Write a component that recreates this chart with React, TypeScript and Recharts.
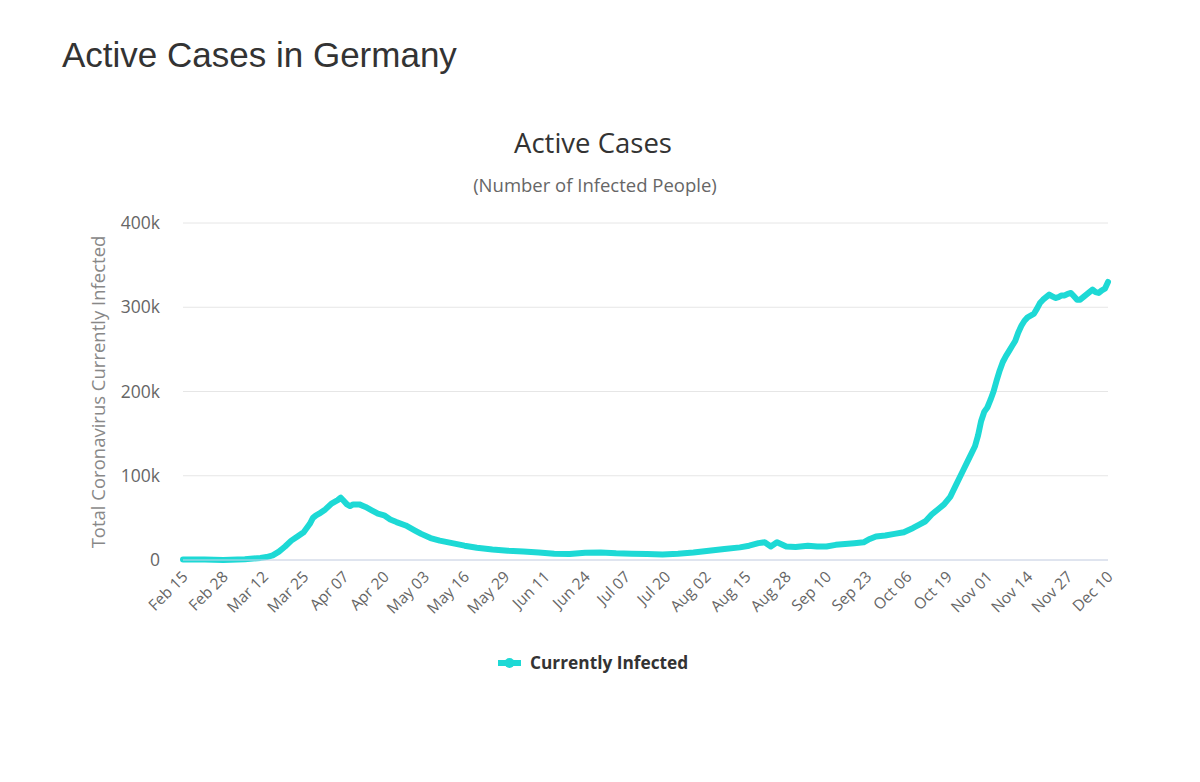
import { LineChart, Line, XAxis, YAxis, CartesianGrid } from 'recharts'

// day offsets from Feb 15 and active cases (thousands)
const dayIdx = [
  0, 7, 13, 20, 25, 27, 29, 31, 33, 35, 37, 39, 41, 42, 43, 44, 46, 48, 50, 51,
  52, 53, 54, 55, 57, 59, 61, 63, 65, 67, 69, 72, 75, 77, 80, 83, 87, 91, 95, 100,
  105, 110, 115, 120, 125, 130, 135, 140, 145, 150, 155, 160, 165, 170, 175, 180, 183, 186, 188, 190,
  192, 195, 198, 202, 205, 208, 211, 214, 217, 220, 222, 224, 227, 230, 233, 236, 238, 240, 242, 244,
  246, 248, 250, 252, 254, 256, 257, 258, 259, 260, 261, 262, 263, 264, 265, 266, 267, 268, 269, 270,
  271, 272, 273, 274, 275, 276, 277, 278, 279, 280, 281, 282, 283, 284, 285, 286, 287, 288, 289, 290,
  291, 292, 293, 294, 295, 296, 297, 298, 299,
]
const activeK = [
  0.5, 0.5, 0.1, 0.8, 2.5, 3.5, 5.5, 10, 16, 23, 28, 33, 43, 50, 53, 55, 60, 67, 71, 74,
  70, 66, 64, 66, 66, 63, 59, 55, 53, 48, 45, 41, 35, 31, 26, 23, 20, 17, 14.5, 12.5,
  11, 10, 9, 7.5, 7, 8.5, 9, 8, 7.5, 7, 6.5, 7.5, 9, 11, 13, 15, 17, 20, 21, 16,
  21, 16, 15.5, 17, 16, 16, 18, 19, 20, 21, 25, 28, 29, 31, 33, 38, 42, 46, 54, 60,
  66, 75, 90, 105, 120, 135, 148, 165, 176, 181, 190, 200, 213, 225, 235, 242, 248, 254, 260, 270,
  278, 284, 288, 290, 292, 298, 305, 309, 312, 315, 313, 311, 312, 314, 314, 316, 317, 313, 309, 309,
  312, 315, 318, 321, 318, 317, 320, 322, 330,
]

const tickDays = [0, 13, 26, 39, 52, 65, 78, 91, 104, 117, 130, 143, 156, 169, 182, 195, 208, 221, 234, 247, 260, 273, 286, 299]
const tickLabels = [
  'Feb 15', 'Feb 28', 'Mar 12', 'Mar 25', 'Apr 07', 'Apr 20', 'May 03', 'May 16', 'May 29', 'Jun 11', 'Jun 24', 'Jul 07',
  'Jul 20', 'Aug 02', 'Aug 15', 'Aug 28', 'Sep 10', 'Sep 23', 'Oct 06', 'Oct 19', 'Nov 01', 'Nov 14', 'Nov 27', 'Dec 10',
]
const yTicks = [0, 100000, 200000, 300000, 400000]

const data = dayIdx.map((d, i) => ({ day: d, active: activeK[i] * 1000 }))

const FONT = '"Open Sans", "DejaVu Sans", sans-serif'
const LINE = '#1dd9d5'

function DateTick({ x, y, payload }: any) {
  const idx = tickDays.indexOf(payload.value)
  return (
    <g transform={`translate(${x + 2},${y + 6})`}>
      <text x={0} y={0} dy="0.35em" textAnchor="end" transform="rotate(-45)" fontSize={15.5} fill="#666" fontFamily={FONT}>
        {tickLabels[idx]}
      </text>
    </g>
  )
}

export default function App() {
  return (
    <div style={{ position: 'absolute', left: 0, top: 0, width: 1200, height: 782, background: '#fff' }}>
      <LineChart width={1200} height={782} data={data} margin={{ top: 223, right: 92, bottom: 162, left: 123 }}>
        <CartesianGrid vertical={false} stroke="#e6e6e6" />
        <XAxis
          dataKey="day"
          type="number"
          domain={[0, 299]}
          ticks={tickDays}
          interval={0}
          height={60}
          stroke="#ccd6eb"
          tickLine={false}
          tick={<DateTick />}
        />
        <YAxis
          domain={[0, 400000]}
          ticks={yTicks}
          width={60}
          axisLine={false}
          tickLine={false}
          tickMargin={17}
          tick={{ fontSize: 17.5, fill: '#666', fontFamily: FONT }}
          tickFormatter={(v) => (v === 0 ? '0' : `${v / 1000}k`)}
        />
        <Line
          type="linear"
          dataKey="active"
          stroke={LINE}
          strokeWidth={6}
          strokeLinejoin="round"
          strokeLinecap="round"
          dot={false}
          isAnimationActive={false}
        />
      </LineChart>
      <svg width={1200} height={782} style={{ position: 'absolute', left: 0, top: 0, pointerEvents: 'none' }}>
        <text x={62} y={67} fontSize={35} fill="#333" fontFamily='"Liberation Sans", Arial, sans-serif'>
          Active Cases in Germany
        </text>
        <text x={593} y={153} textAnchor="middle" fontSize={27.5} fill="#333" fontFamily={FONT}>
          Active Cases
        </text>
        <text x={595} y={192} textAnchor="middle" fontSize={18.5} fill="#666" fontFamily={FONT}>
          (Number of Infected People)
        </text>
        <text
          x={0}
          y={0}
          transform="translate(105,392) rotate(-90)"
          textAnchor="middle"
          fontSize={18.5}
          fill="#888"
          fontFamily={FONT}
        >
          Total Coronavirus Currently Infected
        </text>
        <line x1={498} y1={663} x2={521} y2={663} stroke={LINE} strokeWidth={6} />
        <circle cx={509.5} cy={663} r={5} fill={LINE} />
        <text x={530} y={669} fontSize={17.3} fontWeight="bold" fill="#333" fontFamily={FONT}>
          Currently Infected
        </text>
      </svg>
    </div>
  )
}
